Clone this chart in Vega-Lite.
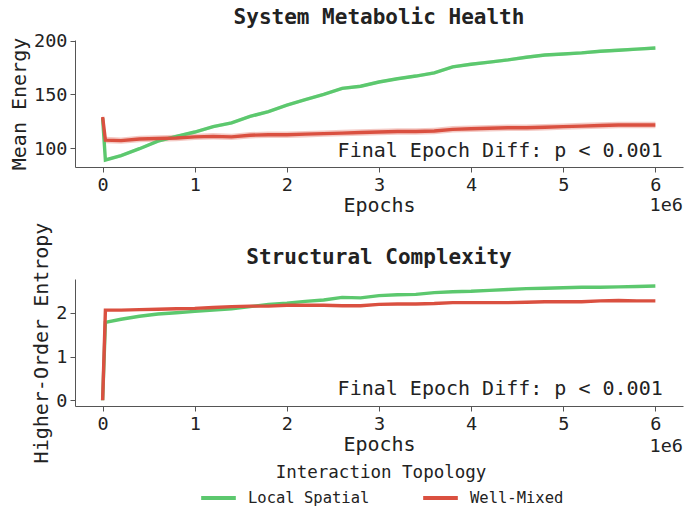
{
  "$schema": "https://vega.github.io/schema/vega-lite/v6.json",
  "description": "Metabolic health and structural complexity by interaction topology.",
  "background": "white",
  "padding": {"left": 9, "top": 6, "right": 5, "bottom": 5},
  "config": {
    "font": "DejaVu Sans Mono",
    "view": {"stroke": null},
    "title": {"fontSize": 21, "fontWeight": "bold", "color": "#222", "anchor": "middle", "offset": 4},
    "axis": {
      "grid": false,
      "domainColor": "#555",
      "tickColor": "#555",
      "labelColor": "#222",
      "titleColor": "#222",
      "labelFontSize": 18.5,
      "titleFontSize": 20,
      "titleFontWeight": "normal",
      "tickSize": 5,
      "labelPadding": 3
    },
    "legend": {
      "direction": "horizontal",
      "titleAnchor": "middle",
      "titleFontSize": 17.5,
      "titleFontWeight": "normal",
      "titleColor": "#222",
      "titleLimit": 400,
      "titlePadding": -3,
      "labelFontSize": 15.5,
      "labelColor": "#222",
      "labelOffset": 10,
      "symbolType": "stroke",
      "symbolStrokeWidth": 4,
      "symbolSize": 1200,
      "symbolOpacity": 1,
      "columnPadding": 45
    }
  },
  "datasets": {
    "energy": [
      {"t": "Local Spatial", "e": 0, "v": 128, "lo": 126.5, "hi": 129.5},
      {"t": "Local Spatial", "e": 30000, "v": 89, "lo": 87.5, "hi": 90.5},
      {"t": "Local Spatial", "e": 200000, "v": 93, "lo": 91.5, "hi": 94.5},
      {"t": "Local Spatial", "e": 400000, "v": 99.5, "lo": 98, "hi": 101},
      {"t": "Local Spatial", "e": 600000, "v": 106.5, "lo": 105, "hi": 108},
      {"t": "Local Spatial", "e": 800000, "v": 111, "lo": 109.5, "hi": 112.5},
      {"t": "Local Spatial", "e": 1000000, "v": 115, "lo": 113.5, "hi": 116.5},
      {"t": "Local Spatial", "e": 1200000, "v": 120, "lo": 118.5, "hi": 121.5},
      {"t": "Local Spatial", "e": 1400000, "v": 123.5, "lo": 122, "hi": 125},
      {"t": "Local Spatial", "e": 1600000, "v": 129.5, "lo": 128, "hi": 131},
      {"t": "Local Spatial", "e": 1800000, "v": 134, "lo": 132.5, "hi": 135.5},
      {"t": "Local Spatial", "e": 2000000, "v": 140, "lo": 138.5, "hi": 141.5},
      {"t": "Local Spatial", "e": 2200000, "v": 145, "lo": 143.5, "hi": 146.5},
      {"t": "Local Spatial", "e": 2400000, "v": 150, "lo": 148.5, "hi": 151.5},
      {"t": "Local Spatial", "e": 2600000, "v": 155.5, "lo": 154, "hi": 157},
      {"t": "Local Spatial", "e": 2800000, "v": 157.5, "lo": 156, "hi": 159},
      {"t": "Local Spatial", "e": 3000000, "v": 161.5, "lo": 160, "hi": 163},
      {"t": "Local Spatial", "e": 3200000, "v": 164.5, "lo": 163, "hi": 166},
      {"t": "Local Spatial", "e": 3400000, "v": 167, "lo": 165.5, "hi": 168.5},
      {"t": "Local Spatial", "e": 3600000, "v": 170, "lo": 168.5, "hi": 171.5},
      {"t": "Local Spatial", "e": 3800000, "v": 175.5, "lo": 174, "hi": 177},
      {"t": "Local Spatial", "e": 4000000, "v": 178, "lo": 176.5, "hi": 179.5},
      {"t": "Local Spatial", "e": 4200000, "v": 180, "lo": 178.5, "hi": 181.5},
      {"t": "Local Spatial", "e": 4400000, "v": 182, "lo": 180.5, "hi": 183.5},
      {"t": "Local Spatial", "e": 4600000, "v": 184.5, "lo": 183, "hi": 186},
      {"t": "Local Spatial", "e": 4800000, "v": 186.5, "lo": 185, "hi": 188},
      {"t": "Local Spatial", "e": 5000000, "v": 187.5, "lo": 186, "hi": 189},
      {"t": "Local Spatial", "e": 5200000, "v": 188.5, "lo": 187, "hi": 190},
      {"t": "Local Spatial", "e": 5400000, "v": 190, "lo": 188.5, "hi": 191.5},
      {"t": "Local Spatial", "e": 5600000, "v": 191, "lo": 189.5, "hi": 192.5},
      {"t": "Local Spatial", "e": 5800000, "v": 192, "lo": 190.5, "hi": 193.5},
      {"t": "Local Spatial", "e": 6000000, "v": 193, "lo": 191.5, "hi": 194.5},
      {"t": "Well-Mixed", "e": 0, "v": 129, "lo": 126, "hi": 132},
      {"t": "Well-Mixed", "e": 30000, "v": 107.5, "lo": 104.5, "hi": 110.5},
      {"t": "Well-Mixed", "e": 200000, "v": 107, "lo": 104, "hi": 110},
      {"t": "Well-Mixed", "e": 400000, "v": 108.5, "lo": 105.5, "hi": 111.5},
      {"t": "Well-Mixed", "e": 600000, "v": 109, "lo": 106, "hi": 112},
      {"t": "Well-Mixed", "e": 800000, "v": 109.5, "lo": 106.5, "hi": 112.5},
      {"t": "Well-Mixed", "e": 1000000, "v": 110.5, "lo": 107.5, "hi": 113.5},
      {"t": "Well-Mixed", "e": 1200000, "v": 111, "lo": 108, "hi": 114},
      {"t": "Well-Mixed", "e": 1400000, "v": 110.5, "lo": 107.5, "hi": 113.5},
      {"t": "Well-Mixed", "e": 1600000, "v": 112, "lo": 109, "hi": 115},
      {"t": "Well-Mixed", "e": 1800000, "v": 112.5, "lo": 109.5, "hi": 115.5},
      {"t": "Well-Mixed", "e": 2000000, "v": 112.5, "lo": 109.5, "hi": 115.5},
      {"t": "Well-Mixed", "e": 2200000, "v": 113, "lo": 110, "hi": 116},
      {"t": "Well-Mixed", "e": 2400000, "v": 113.5, "lo": 110.5, "hi": 116.5},
      {"t": "Well-Mixed", "e": 2600000, "v": 114, "lo": 111, "hi": 117},
      {"t": "Well-Mixed", "e": 2800000, "v": 114.5, "lo": 111.5, "hi": 117.5},
      {"t": "Well-Mixed", "e": 3000000, "v": 115, "lo": 112, "hi": 118},
      {"t": "Well-Mixed", "e": 3200000, "v": 115.5, "lo": 112.5, "hi": 118.5},
      {"t": "Well-Mixed", "e": 3400000, "v": 115.5, "lo": 112.5, "hi": 118.5},
      {"t": "Well-Mixed", "e": 3600000, "v": 116, "lo": 113, "hi": 119},
      {"t": "Well-Mixed", "e": 3800000, "v": 117.5, "lo": 114.5, "hi": 120.5},
      {"t": "Well-Mixed", "e": 4000000, "v": 118, "lo": 115, "hi": 121},
      {"t": "Well-Mixed", "e": 4200000, "v": 118.5, "lo": 115.5, "hi": 121.5},
      {"t": "Well-Mixed", "e": 4400000, "v": 119, "lo": 116, "hi": 122},
      {"t": "Well-Mixed", "e": 4600000, "v": 119, "lo": 116, "hi": 122},
      {"t": "Well-Mixed", "e": 4800000, "v": 119.5, "lo": 116.5, "hi": 122.5},
      {"t": "Well-Mixed", "e": 5000000, "v": 120, "lo": 117, "hi": 123},
      {"t": "Well-Mixed", "e": 5200000, "v": 120.5, "lo": 117.5, "hi": 123.5},
      {"t": "Well-Mixed", "e": 5400000, "v": 121, "lo": 118, "hi": 124},
      {"t": "Well-Mixed", "e": 5600000, "v": 121.5, "lo": 118.5, "hi": 124.5},
      {"t": "Well-Mixed", "e": 5800000, "v": 121.5, "lo": 118.5, "hi": 124.5},
      {"t": "Well-Mixed", "e": 6000000, "v": 121.5, "lo": 118.5, "hi": 124.5}
    ],
    "entropy": [
      {"t": "Local Spatial", "e": 0, "v": 0},
      {"t": "Local Spatial", "e": 30000, "v": 1.78},
      {"t": "Local Spatial", "e": 200000, "v": 1.85},
      {"t": "Local Spatial", "e": 400000, "v": 1.92},
      {"t": "Local Spatial", "e": 600000, "v": 1.97},
      {"t": "Local Spatial", "e": 800000, "v": 2.0},
      {"t": "Local Spatial", "e": 1000000, "v": 2.03},
      {"t": "Local Spatial", "e": 1200000, "v": 2.06},
      {"t": "Local Spatial", "e": 1400000, "v": 2.09},
      {"t": "Local Spatial", "e": 1600000, "v": 2.14},
      {"t": "Local Spatial", "e": 1800000, "v": 2.19},
      {"t": "Local Spatial", "e": 2000000, "v": 2.22},
      {"t": "Local Spatial", "e": 2200000, "v": 2.26},
      {"t": "Local Spatial", "e": 2400000, "v": 2.29},
      {"t": "Local Spatial", "e": 2600000, "v": 2.35},
      {"t": "Local Spatial", "e": 2800000, "v": 2.34},
      {"t": "Local Spatial", "e": 3000000, "v": 2.39},
      {"t": "Local Spatial", "e": 3200000, "v": 2.41},
      {"t": "Local Spatial", "e": 3400000, "v": 2.42},
      {"t": "Local Spatial", "e": 3600000, "v": 2.46},
      {"t": "Local Spatial", "e": 3800000, "v": 2.48},
      {"t": "Local Spatial", "e": 4000000, "v": 2.49},
      {"t": "Local Spatial", "e": 4200000, "v": 2.51},
      {"t": "Local Spatial", "e": 4400000, "v": 2.53},
      {"t": "Local Spatial", "e": 4600000, "v": 2.55},
      {"t": "Local Spatial", "e": 4800000, "v": 2.56},
      {"t": "Local Spatial", "e": 5000000, "v": 2.57},
      {"t": "Local Spatial", "e": 5200000, "v": 2.58},
      {"t": "Local Spatial", "e": 5400000, "v": 2.58},
      {"t": "Local Spatial", "e": 5600000, "v": 2.59},
      {"t": "Local Spatial", "e": 5800000, "v": 2.6},
      {"t": "Local Spatial", "e": 6000000, "v": 2.61},
      {"t": "Well-Mixed", "e": 0, "v": 0},
      {"t": "Well-Mixed", "e": 30000, "v": 2.06},
      {"t": "Well-Mixed", "e": 200000, "v": 2.06},
      {"t": "Well-Mixed", "e": 400000, "v": 2.07},
      {"t": "Well-Mixed", "e": 600000, "v": 2.08},
      {"t": "Well-Mixed", "e": 800000, "v": 2.09},
      {"t": "Well-Mixed", "e": 1000000, "v": 2.1},
      {"t": "Well-Mixed", "e": 1200000, "v": 2.12},
      {"t": "Well-Mixed", "e": 1400000, "v": 2.14},
      {"t": "Well-Mixed", "e": 1600000, "v": 2.15},
      {"t": "Well-Mixed", "e": 1800000, "v": 2.15},
      {"t": "Well-Mixed", "e": 2000000, "v": 2.17},
      {"t": "Well-Mixed", "e": 2200000, "v": 2.17},
      {"t": "Well-Mixed", "e": 2400000, "v": 2.17},
      {"t": "Well-Mixed", "e": 2600000, "v": 2.16},
      {"t": "Well-Mixed", "e": 2800000, "v": 2.16},
      {"t": "Well-Mixed", "e": 3000000, "v": 2.19},
      {"t": "Well-Mixed", "e": 3200000, "v": 2.2},
      {"t": "Well-Mixed", "e": 3400000, "v": 2.2},
      {"t": "Well-Mixed", "e": 3600000, "v": 2.21},
      {"t": "Well-Mixed", "e": 3800000, "v": 2.23},
      {"t": "Well-Mixed", "e": 4000000, "v": 2.23},
      {"t": "Well-Mixed", "e": 4200000, "v": 2.23},
      {"t": "Well-Mixed", "e": 4400000, "v": 2.23},
      {"t": "Well-Mixed", "e": 4600000, "v": 2.24},
      {"t": "Well-Mixed", "e": 4800000, "v": 2.25},
      {"t": "Well-Mixed", "e": 5000000, "v": 2.25},
      {"t": "Well-Mixed", "e": 5200000, "v": 2.25},
      {"t": "Well-Mixed", "e": 5400000, "v": 2.27},
      {"t": "Well-Mixed", "e": 5600000, "v": 2.28},
      {"t": "Well-Mixed", "e": 5800000, "v": 2.27},
      {"t": "Well-Mixed", "e": 6000000, "v": 2.27}
    ]
  },
  "spacing": 6,
  "vconcat": [
    {
      "title": "System Metabolic Health",
      "width": 608,
      "height": 127,
      "layer": [
        {
          "data": {"name": "energy"},
          "mark": {"type": "area", "fillOpacity": 0.3},
          "encoding": {
            "x": {"field": "e", "type": "quantitative"},
            "y": {"field": "lo", "type": "quantitative"},
            "y2": {"field": "hi"},
            "color": {"field": "t", "type": "nominal", "title": "Interaction Topology"}
          }
        },
        {
          "data": {"name": "energy"},
          "mark": {"type": "line", "strokeWidth": 3.4},
          "encoding": {
            "x": {
              "field": "e",
              "type": "quantitative",
              "scale": {"domain": [-300000, 6300000], "nice": false, "zero": false},
              "axis": {"title": "Epochs", "values": [0, 1000000, 2000000, 3000000, 4000000, 5000000, 6000000], "labelExpr": "format(datum.value / 1e6, 'd')", "titlePadding": 2}
            },
            "y": {
              "field": "v",
              "type": "quantitative",
              "scale": {"domain": [82.5, 200.5], "nice": false, "zero": false},
              "axis": {"title": "Mean Energy", "values": [100, 150, 200]}
            },
            "color": {
              "field": "t",
              "type": "nominal",
              "title": "Interaction Topology",
              "scale": {"domain": ["Local Spatial", "Well-Mixed"], "range": ["#5cc86e", "#da5040"]},
              "legend": {"orient": "none", "legendX": 124, "legendY": 424, "symbolOpacity": 1}
            }
          }
        },
        {
          "data": {"values": [{"label": "Final Epoch Diff: p < 0.001"}]},
          "mark": {"type": "text", "align": "right", "baseline": "middle", "fontSize": 20, "color": "#222"},
          "encoding": {
            "x": {"datum": 6080000},
            "y": {"datum": 97},
            "text": {"field": "label"}
          }
        },
        {
          "data": {"values": [{"label": "1e6"}]},
          "mark": {"type": "text", "align": "right", "baseline": "middle", "fontSize": 18.5, "color": "#222"},
          "encoding": {
            "x": {"datum": 6300000},
            "y": {"datum": 47},
            "text": {"field": "label"}
          }
        }
      ]
    },
    {
      "title": {"text": "Structural Complexity", "offset": -46},
      "width": 608,
      "height": 127,
      "layer": [
        {
          "data": {"name": "entropy"},
          "mark": {"type": "line", "strokeWidth": 3.4},
          "encoding": {
            "x": {
              "field": "e",
              "type": "quantitative",
              "scale": {"domain": [-300000, 6300000], "nice": false, "zero": false},
              "axis": {"title": "Epochs", "values": [0, 1000000, 2000000, 3000000, 4000000, 5000000, 6000000], "labelExpr": "format(datum.value / 1e6, 'd')", "titlePadding": 2}
            },
            "y": {
              "field": "v",
              "type": "quantitative",
              "scale": {"domain": [-0.13, 2.77], "nice": false, "zero": false},
              "axis": {"title": "Higher-Order Entropy", "values": [0, 1, 2]}
            },
            "color": {"field": "t", "type": "nominal", "title": "Interaction Topology"}
          }
        },
        {
          "data": {"values": [{"label": "Final Epoch Diff: p < 0.001"}]},
          "mark": {"type": "text", "align": "right", "baseline": "middle", "fontSize": 20, "color": "#222"},
          "encoding": {
            "x": {"datum": 6080000},
            "y": {"datum": 0.25},
            "text": {"field": "label"}
          }
        },
        {
          "data": {"values": [{"label": "1e6"}]},
          "mark": {"type": "text", "align": "right", "baseline": "middle", "fontSize": 18.5, "color": "#222"},
          "encoding": {
            "x": {"datum": 6300000},
            "y": {"datum": -1.04},
            "text": {"field": "label"}
          }
        }
      ]
    }
  ]
}
